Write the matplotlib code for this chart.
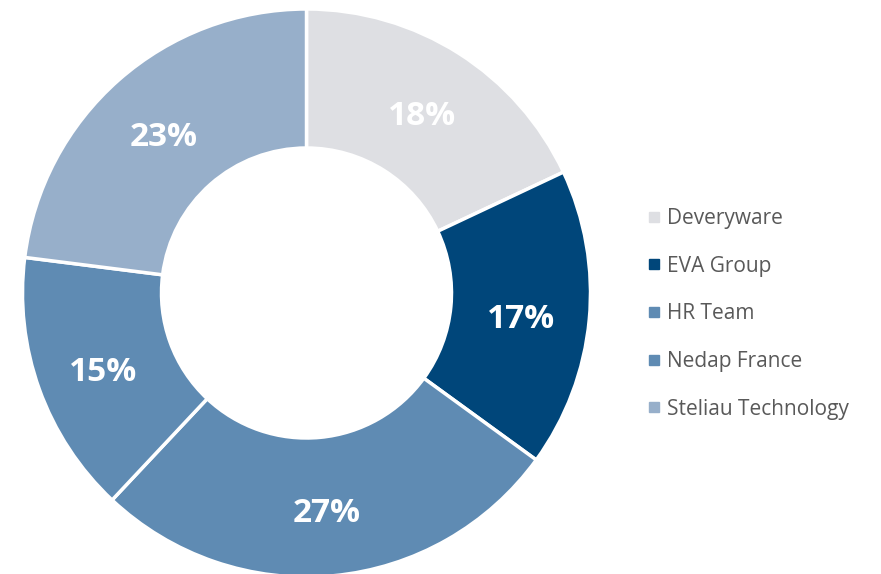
import matplotlib.pyplot as plt
from matplotlib.lines import Line2D

# share of each company (percent)
companies = ["Deveryware", "EVA Group", "HR Team", "Nedap France", "Steliau Technology"]
shares = [18, 17, 27, 15, 23]
colors = ["#DEDFE3", "#00467A", "#5F8BB3", "#5F8BB3", "#97AFCA"]

plt.rcParams["font.family"] = ["Open Sans", "DejaVu Sans"]

fig = plt.figure(figsize=(8.81, 5.74), dpi=100)
ax = fig.add_axes([0, 0, 1, 1])

R = 284
wedges, texts, autotexts = ax.pie(
    shares, colors=colors, startangle=90, counterclock=False,
    center=(306.5, 281), radius=R, frame=True,
    autopct=lambda p: "{:.0f}%".format(p), pctdistance=0.76,
    wedgeprops=dict(width=139, edgecolor="white", linewidth=2.5),
    textprops=dict(color="white", fontsize=24, fontweight="bold"),
)
for t in autotexts:
    x, y = t.get_position()
    t.set_position((x, y - 6))
ax.set_xlim(0, 881)
ax.set_ylim(0, 574)
ax.set_aspect("equal")
ax.axis("off")

handles = [Line2D([], [], marker="s", linestyle="none", markersize=7,
                  markerfacecolor=c, markeredgecolor=c) for c in colors]
leg = ax.legend(handles, companies, loc="upper left", bbox_to_anchor=(648 / 881, 1 - 208 / 574),
                frameon=False, fontsize=15, labelspacing=1.28, handlelength=0.6,
                handletextpad=0.3, borderaxespad=0, borderpad=0)
for t in leg.get_texts():
    t.set_color("#595959")

fig.savefig("out.png", dpi=100)
